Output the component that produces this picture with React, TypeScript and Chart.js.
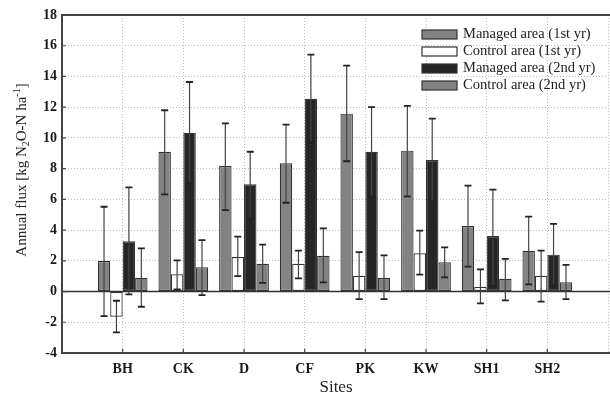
import React, { useEffect, useRef } from "react";
import { Chart, registerables } from "chart.js";

Chart.register(...registerables);

const sites = ["", "BH", "CK", "D", "CF", "PK", "KW", "SH1", "SH2", ""];
const yTicks = [-4, -2, 0, 2, 4, 6, 8, 10, 12, 14, 16, 18];

const seriesNames = [
  "Managed area (1st yr)",
  "Control area (1st yr)",
  "Managed area (2nd yr)",
  "Control area (2nd yr)",
];

// values per site (BH, CK, D, CF, PK, KW, SH1, SH2)
const managed1 = [1.99, 9.1, 8.17, 8.35, 11.58, 9.17, 4.26, 2.66];
const managed1Lo = [-1.6, 6.33, 5.3, 5.78, 8.48, 6.2, 1.62, 0.47];
const managed1Hi = [5.52, 11.8, 10.95, 10.86, 14.7, 12.08, 6.89, 4.87];

const control1 = [-1.64, 1.12, 2.25, 1.81, 1.03, 2.49, 0.31, 1.03];
const control1Lo = [-2.66, 0.14, 1.0, 0.86, -0.49, 1.1, -0.77, -0.66];
const control1Hi = [-0.6, 2.03, 3.57, 2.66, 2.57, 3.96, 1.44, 2.66];

const managed2 = [3.27, 10.34, 6.98, 12.55, 9.1, 8.56, 3.61, 2.4];
const managed2Lo = [-0.18, 7.04, 4.76, 9.69, 6.17, 5.85, 0.36, 0.4];
const managed2Hi = [6.78, 13.64, 9.1, 15.42, 12.01, 11.25, 6.63, 4.41];

const control2 = [0.9, 1.58, 1.81, 2.33, 0.9, 1.9, 0.83, 0.6];
const control2Lo = [-0.99, -0.23, 0.57, 0.6, -0.49, 0.92, -0.57, -0.49];
const control2Hi = [2.81, 3.35, 3.05, 4.11, 2.36, 2.88, 2.12, 1.73];

const fills = ["#838383", "#ffffff", "#262626", "#838383"];
const pad = (arr: number[]) => [null, ...arr, null];

const FONT = "'Liberation Serif', 'DejaVu Serif', serif";

const lows = [managed1Lo, control1Lo, managed2Lo, control2Lo];
const highs = [managed1Hi, control1Hi, managed2Hi, control2Hi];

const decorPlugin = {
  id: "decor",
  beforeDatasetsDraw(chart: any) {
    const { ctx, chartArea, scales } = chart;
    const y = scales.y;
    ctx.save();
    ctx.strokeStyle = "#333";
    ctx.lineWidth = 1.5;
    const y0 = y.getPixelForValue(0);
    ctx.beginPath();
    ctx.moveTo(chartArea.left, y0);
    ctx.lineTo(chartArea.right + 5, y0);
    ctx.stroke();
    ctx.restore();
  },
  afterDatasetsDraw(chart: any) {
    const { ctx, chartArea, scales } = chart;
    const y = scales.y;
    const x = scales.x;
    ctx.save();
    // error bars
    chart.data.datasets.forEach((ds: any, di: number) => {
      const meta = chart.getDatasetMeta(di);
      meta.data.forEach((bar: any, i: number) => {
        const k = i - 1;
        if (k < 0 || k >= lows[di].length) return;
        const cx = bar.x;
        const yl = y.getPixelForValue(lows[di][k]);
        const yh = y.getPixelForValue(highs[di][k]);
        ctx.strokeStyle = "#444";
        ctx.lineWidth = 1.2;
        ctx.beginPath();
        ctx.moveTo(cx, yl);
        ctx.lineTo(cx, yh);
        ctx.stroke();
        ctx.strokeStyle = "#222";
        ctx.lineWidth = 1.8;
        ctx.beginPath();
        ctx.moveTo(cx - 3.5, yl);
        ctx.lineTo(cx + 3.5, yl);
        ctx.moveTo(cx - 3.5, yh);
        ctx.lineTo(cx + 3.5, yh);
        ctx.stroke();
      });
    });

    // frame
    ctx.strokeStyle = "#444";
    ctx.lineWidth = 2;
    ctx.beginPath();
    ctx.moveTo(chartArea.right + 5, chartArea.top);
    ctx.lineTo(chartArea.left, chartArea.top);
    ctx.lineTo(chartArea.left, chartArea.bottom);
    ctx.lineTo(chartArea.right + 5, chartArea.bottom);
    ctx.stroke();

    // tick marks
    ctx.lineWidth = 1.2;
    ctx.beginPath();
    yTicks.forEach((t) => {
      const py = y.getPixelForValue(t);
      ctx.moveTo(chartArea.left, py);
      ctx.lineTo(chartArea.left + 4, py);
    });
    for (let i = 1; i <= 8; i++) {
      const px = x.getPixelForValue(i);
      ctx.moveTo(px, chartArea.bottom);
      ctx.lineTo(px, chartArea.bottom - 4);
    }
    ctx.stroke();

    // legend
    const lx = 422;
    const rows = [34.5, 51.5, 68.5, 85.5];
    ctx.font = `14.5px ${FONT}`;
    ctx.textBaseline = "middle";
    ctx.textAlign = "left";
    rows.forEach((ry, i) => {
      ctx.fillStyle = fills[i];
      ctx.fillRect(lx, ry - 4.5, 35, 9);
      ctx.strokeStyle = "#333";
      ctx.lineWidth = 1.2;
      ctx.strokeRect(lx, ry - 4.5, 35, 9);
      ctx.fillStyle = "#222";
      ctx.fillText(seriesNames[i], 463, ry);
    });

    // x title
    ctx.font = `17px ${FONT}`;
    ctx.textAlign = "center";
    ctx.fillText("Sites", 336, 388);

    // y title with sub/superscripts
    ctx.translate(22, 170);
    ctx.rotate(-Math.PI / 2);
    const parts: [string, string][] = [
      ["Annual flux [kg N", "n"],
      ["2", "sub"],
      ["O-N ha", "n"],
      ["-1", "sup"],
      ["]", "n"],
    ];
    const big = `15px ${FONT}`;
    const small = `10px ${FONT}`;
    let total = 0;
    parts.forEach(([t, k]) => {
      ctx.font = k === "n" ? big : small;
      total += ctx.measureText(t).width;
    });
    let cx = -total / 2;
    ctx.textAlign = "left";
    parts.forEach(([t, k]) => {
      ctx.font = k === "n" ? big : small;
      const dy = k === "sub" ? 4 : k === "sup" ? -5 : 0;
      ctx.fillText(t, cx, dy);
      cx += ctx.measureText(t).width;
    });
    ctx.restore();
  },
};

export default function App() {
  const ref = useRef<HTMLCanvasElement>(null);
  useEffect(() => {
    if (!ref.current) return;
    const datasets = [managed1, control1, managed2, control2].map((d, i) => ({
      label: seriesNames[i],
      data: pad(d),
      backgroundColor: fills[i],
      borderColor: "#333",
      borderWidth: 1.2,
      borderSkipped: false,
      categoryPercentage: 0.82,
      barPercentage: 1.0,
    }));
    const chart = new Chart(ref.current, {
      type: "bar",
      data: { labels: sites, datasets },
      options: {
        animation: false,
        responsive: false,
        layout: { padding: { top: 15, right: 2, left: 0, bottom: 0 } },
        plugins: { legend: { display: false }, tooltip: { enabled: false } },
        scales: {
          x: {
            offset: false,
            grid: {
              offset: false,
              color: "#bdbdbd",
              lineWidth: 1,
              drawTicks: false,
            },
            border: { display: false, dash: [1, 2] },
            ticks: {
              color: "#1a1a1a",
              font: { family: FONT, size: 14, weight: "bold" },
              padding: 8,
              maxRotation: 0,
              autoSkip: false,
            },
            afterFit: (s: any) => {
              s.height = 45;
            },
          },
          y: {
            min: -4,
            max: 18,
            afterBuildTicks: (s: any) => {
              s.ticks = yTicks.map((v) => ({ value: v }));
            },
            grid: { color: "#bdbdbd", lineWidth: 1, drawTicks: false },
            border: { display: false, dash: [1, 2] },
            ticks: {
              color: "#1a1a1a",
              font: { family: FONT, size: 14, weight: "bold" },
              padding: 5,
            },
            afterFit: (s: any) => {
              s.width = 62;
            },
          },
        },
      },
      plugins: [decorPlugin],
    });
    return () => chart.destroy();
  }, []);
  return (
    <div
      style={{
        position: "fixed",
        left: 0,
        top: 0,
        width: 610,
        height: 398,
        overflow: "hidden",
        background: "#fff",
      }}
    >
      <canvas ref={ref} width={616} height={398} style={{ display: "block" }} />
    </div>
  );
}
